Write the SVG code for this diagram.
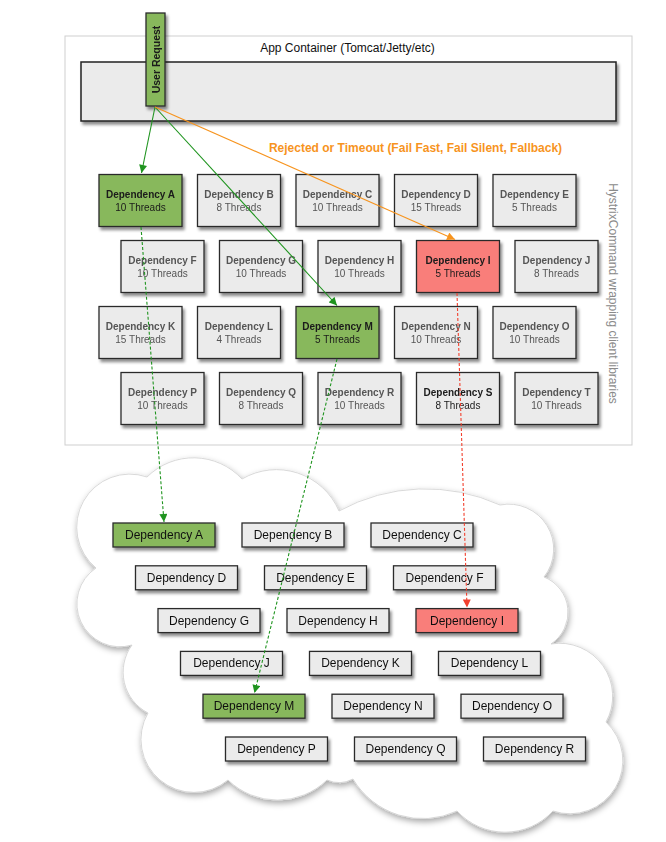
<svg xmlns="http://www.w3.org/2000/svg" width="666" height="842" viewBox="0 0 666 842">
<defs>
<style>
text{font-family:"Liberation Sans",Arial,sans-serif}
.dep rect{stroke:#2b2b2b;stroke-width:1.3}
.g rect{fill:#88b85c}
.r rect{fill:#f97e7a}
.n rect{fill:#ebebeb}
.nm{font-size:10px;font-weight:bold;text-anchor:middle}
.th{font-size:10px;text-anchor:middle}
.n .nm,.n .th{fill:#555}
.g .nm,.g .th,.r .nm,.r .th,.dk .nm,.dk .th{fill:#1a1a1a}
.cb rect{stroke:#2b2b2b;stroke-width:1.3}
.cb text{font-size:12px;text-anchor:middle;fill:#111}
.conn{fill:none;stroke-width:1.1}
.green{stroke:#1f941f}
.orange{stroke:#f7941e}
.red{stroke:#f2402e}
.dash{stroke-dasharray:3 2}
</style>
<filter id="sh" x="-20%" y="-20%" width="150%" height="160%">
<feDropShadow dx="2" dy="3" stdDeviation="1.8" flood-color="#000" flood-opacity="0.45"/>
</filter>
<filter id="csh" x="-10%" y="-10%" width="125%" height="125%">
<feDropShadow dx="1" dy="3" stdDeviation="3" flood-color="#000" flood-opacity="0.35"/>
</filter>
<marker id="ag" viewBox="0 0 10 10" refX="10" refY="5" markerWidth="9" markerHeight="8" markerUnits="userSpaceOnUse" orient="auto"><path d="M0,0 L10,5 L0,10 z" fill="#1f941f"/></marker>
<marker id="ao" viewBox="0 0 10 10" refX="10" refY="5" markerWidth="9" markerHeight="8" markerUnits="userSpaceOnUse" orient="auto"><path d="M0,0 L10,5 L0,10 z" fill="#f7941e"/></marker>
<marker id="ar" viewBox="0 0 10 10" refX="10" refY="5" markerWidth="9" markerHeight="8" markerUnits="userSpaceOnUse" orient="auto"><path d="M0,0 L10,5 L0,10 z" fill="#f2402e"/></marker>
</defs>
<rect width="666" height="842" fill="#fff"/>

<g id="app-container">
<rect x="65" y="36" width="567" height="409" fill="#fff" stroke="#cfcfcf" stroke-width="1"/>
<text x="347.5" y="52" font-size="12" text-anchor="middle" fill="#111">App Container (Tomcat/Jetty/etc)</text>
</g>
<g id="container-bar">
<rect x="81" y="62" width="535" height="59" fill="#ebebeb" stroke="#222" stroke-width="1.5" filter="url(#sh)"/>
</g>

<text transform="translate(609,293.5) rotate(90)" font-size="12" text-anchor="middle" fill="#8a8a8a">HystrixCommand wrapping client libraries</text>
<text x="415.5" y="152" font-size="12" font-weight="bold" text-anchor="middle" fill="#f7941e">Rejected or Timeout (Fail Fast, Fail Silent, Fallback)</text>

<!-- thread-pool dependencies -->
<g id="dep-A" class="dep g" filter="url(#sh)"><rect x="99" y="174.5" width="83" height="52"/><text class="nm" x="140.5" y="198">Dependency A</text><text class="th" x="140.5" y="211">10 Threads</text></g>
<g id="dep-B" class="dep n" filter="url(#sh)"><rect x="197.5" y="174.5" width="83" height="52"/><text class="nm" x="239" y="198">Dependency B</text><text class="th" x="239" y="211">8 Threads</text></g>
<g id="dep-C" class="dep n" filter="url(#sh)"><rect x="296" y="174.5" width="83" height="52"/><text class="nm" x="337.5" y="198">Dependency C</text><text class="th" x="337.5" y="211">10 Threads</text></g>
<g id="dep-D" class="dep n" filter="url(#sh)"><rect x="394.5" y="174.5" width="83" height="52"/><text class="nm" x="436" y="198">Dependency D</text><text class="th" x="436" y="211">15 Threads</text></g>
<g id="dep-E" class="dep n" filter="url(#sh)"><rect x="493" y="174.5" width="83" height="52"/><text class="nm" x="534.5" y="198">Dependency E</text><text class="th" x="534.5" y="211">5 Threads</text></g>

<g id="dep-F" class="dep n" filter="url(#sh)"><rect x="121" y="240.5" width="83" height="52"/><text class="nm" x="162.5" y="264">Dependency F</text><text class="th" x="162.5" y="277">10 Threads</text></g>
<g id="dep-G" class="dep n" filter="url(#sh)"><rect x="219.5" y="240.5" width="83" height="52"/><text class="nm" x="261" y="264">Dependency G</text><text class="th" x="261" y="277">10 Threads</text></g>
<g id="dep-H" class="dep n" filter="url(#sh)"><rect x="318" y="240.5" width="83" height="52"/><text class="nm" x="359.5" y="264">Dependency H</text><text class="th" x="359.5" y="277">10 Threads</text></g>
<g id="dep-I" class="dep r" filter="url(#sh)"><rect x="416.5" y="240.5" width="83" height="52"/><text class="nm" x="458" y="264">Dependency I</text><text class="th" x="458" y="277">5 Threads</text></g>
<g id="dep-J" class="dep n" filter="url(#sh)"><rect x="515" y="240.5" width="83" height="52"/><text class="nm" x="556.5" y="264">Dependency J</text><text class="th" x="556.5" y="277">8 Threads</text></g>

<g id="dep-K" class="dep n" filter="url(#sh)"><rect x="99" y="306.5" width="83" height="52"/><text class="nm" x="140.5" y="330">Dependency K</text><text class="th" x="140.5" y="343">15 Threads</text></g>
<g id="dep-L" class="dep n" filter="url(#sh)"><rect x="197.5" y="306.5" width="83" height="52"/><text class="nm" x="239" y="330">Dependency L</text><text class="th" x="239" y="343">4 Threads</text></g>
<g id="dep-M" class="dep g" filter="url(#sh)"><rect x="296" y="306.5" width="83" height="52"/><text class="nm" x="337.5" y="330">Dependency M</text><text class="th" x="337.5" y="343">5 Threads</text></g>
<g id="dep-N" class="dep n" filter="url(#sh)"><rect x="394.5" y="306.5" width="83" height="52"/><text class="nm" x="436" y="330">Dependency N</text><text class="th" x="436" y="343">10 Threads</text></g>
<g id="dep-O" class="dep n" filter="url(#sh)"><rect x="493" y="306.5" width="83" height="52"/><text class="nm" x="534.5" y="330">Dependency O</text><text class="th" x="534.5" y="343">10 Threads</text></g>

<g id="dep-P" class="dep n" filter="url(#sh)"><rect x="121" y="372.5" width="83" height="52"/><text class="nm" x="162.5" y="396">Dependency P</text><text class="th" x="162.5" y="409">10 Threads</text></g>
<g id="dep-Q" class="dep n" filter="url(#sh)"><rect x="219.5" y="372.5" width="83" height="52"/><text class="nm" x="261" y="396">Dependency Q</text><text class="th" x="261" y="409">8 Threads</text></g>
<g id="dep-R" class="dep n" filter="url(#sh)"><rect x="318" y="372.5" width="83" height="52"/><text class="nm" x="359.5" y="396">Dependency R</text><text class="th" x="359.5" y="409">10 Threads</text></g>
<g id="dep-S" class="dep n dk" filter="url(#sh)"><rect x="416.5" y="372.5" width="83" height="52"/><text class="nm" x="458" y="396">Dependency S</text><text class="th" x="458" y="409">8 Threads</text></g>
<g id="dep-T" class="dep n" filter="url(#sh)"><rect x="515" y="372.5" width="83" height="52"/><text class="nm" x="556.5" y="396">Dependency T</text><text class="th" x="556.5" y="409">10 Threads</text></g>

<!-- cloud -->
<g id="cloud">
<path d="M147,477 A66,66 0 0 1 242,479 A68,68 0 0 1 339,511 A180,180 0 0 1 500,505 A45,45 0 0 1 544,577 A38,38 0 0 1 551,644 A53,53 0 0 1 606,722 A53,53 0 0 1 553,811 A65,65 0 0 1 457,811 A81,81 0 0 1 353,779 A30,30 0 0 1 327,780 A71,71 0 0 1 228,780 A53,53 0 0 1 148,713 A46,46 0 0 1 132,645 A43,43 0 0 1 96,568 A53,53 0 0 1 147,477 Z" fill="#fff" stroke="#d0d0d0" stroke-width="0.8" filter="url(#csh)"/>
</g>

<g id="svc-A" class="cb g" filter="url(#sh)"><rect x="113" y="523" width="102" height="24"/><text x="164" y="539">Dependency A</text></g>
<g id="svc-B" class="cb n" filter="url(#sh)"><rect x="242" y="523" width="102" height="24"/><text x="293" y="539">Dependency B</text></g>
<g id="svc-C" class="cb n" filter="url(#sh)"><rect x="371" y="523" width="102" height="24"/><text x="422" y="539">Dependency C</text></g>
<g id="svc-D" class="cb n" filter="url(#sh)"><rect x="135.5" y="565.8" width="102" height="24"/><text x="186.5" y="581.8">Dependency D</text></g>
<g id="svc-E" class="cb n" filter="url(#sh)"><rect x="264.5" y="565.8" width="102" height="24"/><text x="315.5" y="581.8">Dependency E</text></g>
<g id="svc-F" class="cb n" filter="url(#sh)"><rect x="393.5" y="565.8" width="102" height="24"/><text x="444.5" y="581.8">Dependency F</text></g>
<g id="svc-G" class="cb n" filter="url(#sh)"><rect x="158" y="608.6" width="102" height="24"/><text x="209" y="624.6">Dependency G</text></g>
<g id="svc-H" class="cb n" filter="url(#sh)"><rect x="287" y="608.6" width="102" height="24"/><text x="338" y="624.6">Dependency H</text></g>
<g id="svc-I" class="cb r" filter="url(#sh)"><rect x="416" y="608.6" width="102" height="24"/><text x="467" y="624.6">Dependency I</text></g>
<g id="svc-J" class="cb n" filter="url(#sh)"><rect x="180.5" y="651.4" width="102" height="24"/><text x="231.5" y="667.4">Dependency J</text></g>
<g id="svc-K" class="cb n" filter="url(#sh)"><rect x="309.5" y="651.4" width="102" height="24"/><text x="360.5" y="667.4">Dependency K</text></g>
<g id="svc-L" class="cb n" filter="url(#sh)"><rect x="438.5" y="651.4" width="102" height="24"/><text x="489.5" y="667.4">Dependency L</text></g>
<g id="svc-M" class="cb g" filter="url(#sh)"><rect x="203" y="694.2" width="102" height="24"/><text x="254" y="710.2">Dependency M</text></g>
<g id="svc-N" class="cb n" filter="url(#sh)"><rect x="332" y="694.2" width="102" height="24"/><text x="383" y="710.2">Dependency N</text></g>
<g id="svc-O" class="cb n" filter="url(#sh)"><rect x="461" y="694.2" width="102" height="24"/><text x="512" y="710.2">Dependency O</text></g>
<g id="svc-P" class="cb n" filter="url(#sh)"><rect x="225.5" y="737" width="102" height="24"/><text x="276.5" y="753">Dependency P</text></g>
<g id="svc-Q" class="cb n" filter="url(#sh)"><rect x="354.5" y="737" width="102" height="24"/><text x="405.5" y="753">Dependency Q</text></g>
<g id="svc-R" class="cb n" filter="url(#sh)"><rect x="483.5" y="737" width="102" height="24"/><text x="534.5" y="753">Dependency R</text></g>

<!-- user request -->
<g id="user-request" filter="url(#sh)">
<rect x="146" y="13" width="19" height="93" fill="#88b85c" stroke="#2b2b2b" stroke-width="1.3"/>
<text transform="translate(159.5,59.5) rotate(-90)" font-size="10.5" font-weight="bold" text-anchor="middle" fill="#1a1a1a">User Request</text>
</g>

<g id="connectors">
<path class="conn green" d="M155,107 L141.5,173" marker-end="url(#ag)"/>
<path class="conn green" d="M155,107 L337,305.5" marker-end="url(#ag)"/>
<path class="conn orange" d="M155,107 L455,239.5" marker-end="url(#ao)"/>
<path class="conn green dash" d="M141,227 L164,522" marker-end="url(#ag)"/>
<path class="conn green dash" d="M337,359 L254.5,693" marker-end="url(#ag)"/>
<path class="conn red dash" d="M457,293 L467,607.5" marker-end="url(#ar)"/>
</g>
</svg>
